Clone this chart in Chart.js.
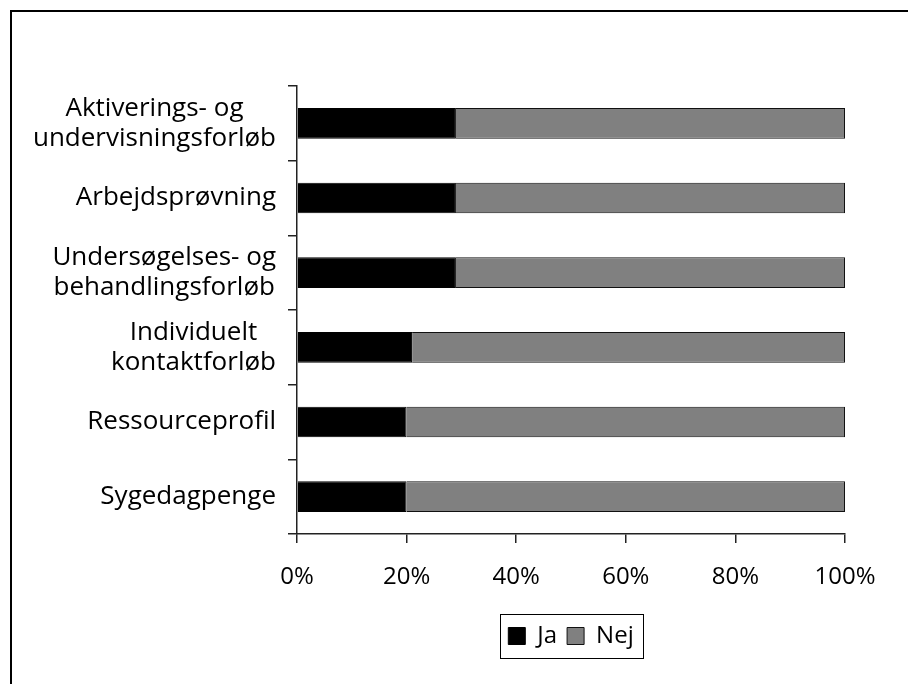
<!DOCTYPE html>
<html>
<head>
<meta charset="utf-8">
<script src="https://cdn.jsdelivr.net/npm/chart.js@4.4.1/dist/chart.umd.min.js"></script>
<style>
  html, body { margin: 0; padding: 0; background: #fff; }
  #wrap { position: relative; width: 908px; height: 684px; }
</style>
</head>
<body>
<div id="wrap"><canvas id="bar-chart" width="908" height="684"></canvas></div>
<script>
const categories = [
  ["Aktiverings- og", "undervisningsforløb"],
  ["Arbejdsprøvning"],
  ["Undersøgelses- og", "behandlingsforløb"],
  ["Individuelt", "kontaktforløb"],
  ["Ressourceprofil"],
  ["Sygedagpenge"]
];
const jaValues = [29, 29, 29, 21, 20, 20];
const nejValues = [71, 71, 71, 79, 80, 80];
const xTickLabels = ["0%", "20%", "40%", "60%", "80%", "100%"];

const FONT = "'Open Sans', 'Noto Sans', sans-serif";

// category names, each line centred on the widest line of its own label
const categoryLabels = {
  id: "categoryLabels",
  afterDraw(chart) {
    const { ctx } = chart;
    const y = chart.scales.y;
    const right = y.right - 21;
    const lineH = 30;
    ctx.save();
    ctx.font = "26px " + FONT;
    ctx.fillStyle = "#000";
    ctx.textAlign = "center";
    ctx.textBaseline = "middle";
    categories.forEach((lines, i) => {
      const cy = y.getPixelForValue(i);
      const w = Math.max(...lines.map(l => ctx.measureText(l).width));
      const cx = right - w / 2;
      const top = cy - (lines.length - 1) * lineH / 2;
      lines.forEach((l, k) => ctx.fillText(l, cx, top + k * lineH));
    });
    ctx.restore();
  }
};

// outer frame and the box round the legend
const frames = {
  id: "frames",
  afterDraw(chart) {
    const { ctx } = chart;
    ctx.save();
    ctx.strokeStyle = "#000";
    ctx.lineWidth = 2;
    ctx.strokeRect(11, 11, 1000, 1000);

    const hb = chart.legend.legendHitBoxes;
    if (hb && hb.length) {
      const first = hb[0], last = hb[hb.length - 1];
      const l = first.left - 8;
      const r = last.left + last.width + 10;
      const t = first.top - 10;
      const b = first.top + first.height + 10;
      ctx.lineWidth = 1;
      ctx.strokeRect(Math.round(l) + 0.5, Math.round(t) + 0.5, Math.round(r - l), Math.round(b - t));
    }
    ctx.restore();
  }
};

const config = {
  type: "bar",
  data: {
    labels: categories.map(c => c.join(" ")),
    datasets: [
      {
        label: "Ja",
        data: jaValues,
        backgroundColor: "#000000",
        borderColor: "#000000",
        borderWidth: 1,
        barPercentage: 0.41,
        categoryPercentage: 1
      },
      {
        label: "Nej",
        data: nejValues,
        backgroundColor: "#808080",
        borderColor: "#111111",
        borderWidth: 1,
        barPercentage: 0.41,
        categoryPercentage: 1
      }
    ]
  },
  options: {
    indexAxis: "y",
    responsive: false,
    animation: false,
    devicePixelRatio: 1,
    layout: { padding: { top: 86, right: 63, left: 0, bottom: 26 } },
    scales: {
      x: {
        stacked: true,
        min: 0,
        max: 100,
        border: { display: true, color: "#222", width: 1.5 },
        grid: { drawOnChartArea: false, drawTicks: true, tickLength: 9, color: "#222", lineWidth: 1.5 },
        ticks: {
          stepSize: 20,
          padding: 20,
          color: "#000",
          font: { family: FONT, size: 24 },
          maxRotation: 0,
          callback: (v, i) => xTickLabels[i]
        },
        afterFit(scale) { scale.height = 80; }
      },
      y: {
        stacked: true,
        offset: true,
        border: { display: true, color: "#222", width: 1.5 },
        grid: { offset: true, drawOnChartArea: false, drawTicks: true, tickLength: 9, color: "#222", lineWidth: 1.5 },
        ticks: { display: false },
        afterFit(scale) { scale.width = 297; }
      }
    },
    plugins: {
      tooltip: { enabled: false },
      legend: {
        position: "bottom",
        fullSize: false,
        labels: {
          color: "#000",
          font: { family: FONT, size: 24 },
          boxWidth: 17,
          boxHeight: 17,
          padding: 10
        }
      }
    }
  },
  plugins: [categoryLabels, frames]
};

new Chart(document.getElementById("bar-chart").getContext("2d"), config);
</script>
</body>
</html>
